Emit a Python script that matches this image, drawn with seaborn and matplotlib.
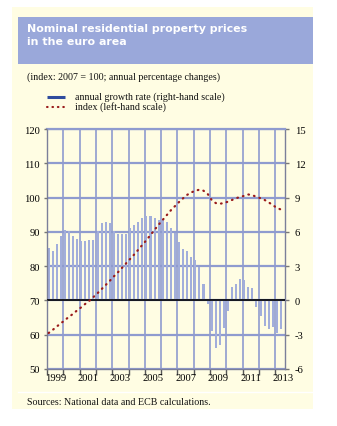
import matplotlib
matplotlib.use("Agg")
import matplotlib.pyplot as plt
from matplotlib.patches import Rectangle
from matplotlib.lines import Line2D
from matplotlib.ticker import FixedLocator, NullFormatter, FixedFormatter
import numpy as np
import pandas as pd
import seaborn as sns

# Quarterly observations, 1999 Q1 - 2013 Q2
years = [1999 + i // 4 for i in range(58)]
quarter_nums = [1 + i % 4 for i in range(58)]

# annual growth rate, % (right-hand scale)
growth = [4.55, 4.3, 4.9, 5.6, 6.2, 6.1, 5.65, 5.4,
          5.2, 5.2, 5.3, 5.3, 6.1, 6.8, 6.85, 6.8,
          6.1, 5.85, 5.85, 5.85, 6.35, 6.6, 6.85, 7.2,
          7.35, 7.35, 7.2, 7.05, 7.1, 6.85, 6.3, 5.9,
          5.1, 4.5, 4.3, 3.8, 3.55, 2.9, 1.4, -0.3,
          -2.7, -4.15, -3.9, -2.4, -0.9, 1.15, 1.45, 1.85,
          1.8, 1.2, 1.1, -0.6, -1.4, -2.2, -2.5, -2.3,
          -2.85, -2.5]

# index, 2007 = 100 (left-hand scale)
index = [60.5, 61.4, 62.4, 63.3, 64.3, 65.2, 66.1, 67.1,
         68.0, 69.0, 69.9, 71.0, 72.1, 73.3, 74.5, 75.7,
         77.0, 78.2, 79.5, 80.8, 82.1, 83.4, 84.8, 86.2,
         87.6, 89.1, 90.6, 92.1, 93.5, 94.9, 96.3, 97.5,
         98.7, 99.8, 100.8, 101.5, 102.0, 102.3, 102.0, 101.1,
         99.3, 98.4, 98.2, 98.4, 98.8, 99.3, 99.8, 100.2,
         100.5, 100.9, 100.7, 100.2, 99.8, 99.3, 98.6, 97.8,
         97.0, 96.5]

year_labels = ["1999", "2001", "2003", "2005", "2007", "2009", "2011", "2013"]
left_ticks = [50, 60, 70, 80, 90, 100, 110, 120]
right_ticks = [-6, -3, 0, 3, 6, 9, 12, 15]

df = pd.DataFrame({"year": years, "q": quarter_nums,
                   "growth": growth, "index": index})
df["t"] = df["year"] + (df["q"] - 1) / 4 + 0.1

plt.rcParams["axes.unicode_minus"] = False
SERIF = ["Liberation Serif", "DejaVu Serif"]

W, H = 337, 427
fig = plt.figure(figsize=(W / 100, H / 100), dpi=100)
fig.patch.set_facecolor("white")


def fx(x):
    return x / W


def fy(y):
    return 1 - y / H


CREAM = "#fffde3"
BLUE_BOX = "#9aa8da"
GRID = "#8f9bcf"
BAR = "#a2aedb"
DOT = "#9a1b1b"
DOT_STYLE = (0, (0.3, 2.3))

# panel background and title box
fig.add_artist(Rectangle((fx(12), fy(410)), fx(313 - 12), (410 - 8) / H,
                         transform=fig.transFigure, facecolor=CREAM,
                         edgecolor="none", zorder=0))
fig.add_artist(Rectangle((fx(18), fy(65)), fx(313 - 18), (65 - 18) / H,
                         transform=fig.transFigure, facecolor=BLUE_BOX,
                         edgecolor="none", zorder=1))
fig.add_artist(Line2D([fx(18), fx(313)], [fy(393), fy(393)],
                      transform=fig.transFigure, color="white", lw=1.0))

fig.text(fx(27), fy(29), "Nominal residential property prices", color="white",
         fontsize=7.9, fontweight="bold", family="DejaVu Sans", va="center")
fig.text(fx(27), fy(42), "in the euro area", color="white",
         fontsize=7.9, fontweight="bold", family="DejaVu Sans", va="center")
fig.text(fx(27), fy(77), "(index: 2007 = 100; annual percentage changes)",
         fontsize=7.2, family=SERIF, va="center", color="#111111")

# legend
fig.add_artist(Line2D([fx(47), fx(65)], [fy(98), fy(98)], transform=fig.transFigure,
                      color="#2f4c9e", lw=2.2, solid_capstyle="butt"))
fig.text(fx(75), fy(97.5), "annual growth rate (right-hand scale)",
         fontsize=7.2, family=SERIF, va="center", color="#111111")
leg_dot = Line2D([fx(47), fx(65)], [fy(108), fy(108)], transform=fig.transFigure,
                 color=DOT, lw=1.5, linestyle=DOT_STYLE)
leg_dot.set_dash_capstyle("round")
fig.add_artist(leg_dot)
fig.text(fx(75), fy(107.5), "index (left-hand scale)",
         fontsize=7.2, family=SERIF, va="center", color="#111111")

fig.text(fx(27), fy(403), "Sources: National data and ECB calculations.",
         fontsize=7.2, family=SERIF, va="center", color="#111111")

# main axes: growth bars (right scale)
ax = fig.add_axes([fx(47), fy(370), fx(285 - 47), (370 - 130) / H])
ax.set_facecolor(CREAM)
ax.set_axisbelow(True)

sns.barplot(data=df, x="t", y="growth", native_scale=True, width=0.5,
            color=BAR, saturation=1, errorbar=None, ax=ax, zorder=2)
for p in ax.patches:
    p.set_edgecolor("none")

ax.set_xlim(1999, 2013.6)
ax.set_ylim(-6, 15)
ax.axhline(0, color="black", lw=1.2, zorder=4)

ax.xaxis.set_major_locator(FixedLocator(list(range(1999, 2014))))
ax.xaxis.set_major_formatter(NullFormatter())
ax.xaxis.set_minor_locator(FixedLocator([int(y) + 0.5 for y in year_labels]))
ax.xaxis.set_minor_formatter(FixedFormatter(year_labels))
ax.tick_params(axis="x", which="major", length=4, width=1, color="#555555",
               direction="out")
ax.tick_params(axis="x", which="minor", length=0, pad=3, labelsize=7.6)
for lab in ax.get_xticklabels(minor=True):
    lab.set_family(SERIF)

ax.grid(axis="y", color=GRID, lw=1.6)
ax.grid(axis="x", which="major", color=GRID, lw=1.2)
ax.set_xlabel("")
ax.set_ylabel("")

for side in ["left", "right", "bottom"]:
    ax.spines[side].set_color("#7b7f9a")
    ax.spines[side].set_linewidth(1.0)
ax.spines["top"].set_color(GRID)
ax.spines["top"].set_linewidth(1.6)

# twin axes: index line (left scale)
ax2 = ax.twinx()
sns.lineplot(data=df, x="t", y="index", ax=ax2, color=DOT, lw=1.6)
line = ax2.get_lines()[0]
line.set_linestyle(DOT_STYLE)
line.set_dash_capstyle("round")
ax2.set_ylim(50, 120)
ax2.set_yticks(left_ticks)
ax2.yaxis.set_ticks_position("left")
ax2.yaxis.set_label_position("left")
ax2.tick_params(axis="y", length=2, width=1, color="#777777", pad=3, labelsize=7.6)
for lab in ax2.get_yticklabels():
    lab.set_family(SERIF)
ax2.set_xlabel("")
ax2.set_ylabel("")
for s in ax2.spines.values():
    s.set_visible(False)
ax2.set_xlim(1999, 2013.6)

# growth scale on the right (set after twinx, which moves it left)
ax.set_yticks(right_ticks)
ax.yaxis.set_ticks_position("right")
ax.yaxis.set_label_position("right")
ax.tick_params(axis="y", length=3, width=1, color="#777777", pad=4, labelsize=7.6)
for lab in ax.get_yticklabels():
    lab.set_family(SERIF)

fig.savefig("out.png", dpi=100, facecolor="white")
